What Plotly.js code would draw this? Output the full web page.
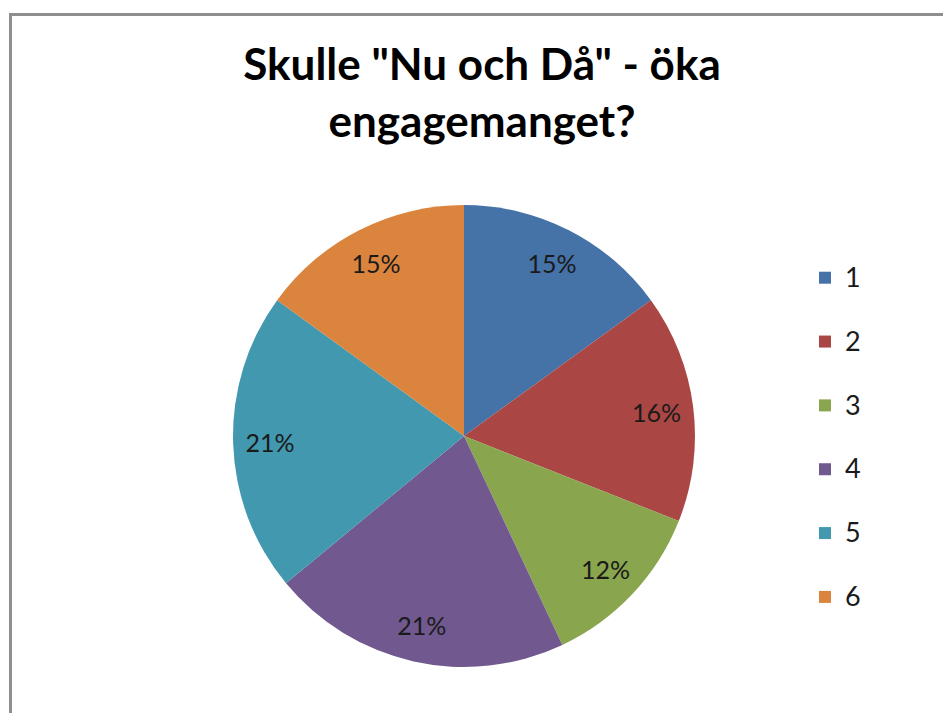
<!DOCTYPE html>
<html>
<head>
<meta charset="utf-8">
<script src="https://cdn.plot.ly/plotly-3.0.1.min.js"></script>
<style>
  body { margin: 0; background: #fff; }
  #plot { width: 943px; height: 713px; }
</style>
</head>
<body>
<div id="plot"></div>
<script>
// chart data
var labels = ['1', '2', '3', '4', '5', '6']
var values = [15, 16, 12, 21, 21, 15]
var colors = ['#4572A7', '#AA4643', '#89A54E', '#71588F', '#4198AF', '#DB843D']

var font = 'Lato, Carlito, Calibri, sans-serif'

// legend text gets an extra blank line so the entries are spaced like the original
var legendLabels = labels.map(function (l) {
  return '<span style="font-size:27px">' + l + '</span><br>\u00a0'
})

var dom = {x: [0.2471, 0.7370], y: [0.0645, 0.7125]}

// the coloured pie with the legend
var pie = {
  type: 'pie',
  labels: legendLabels,
  values: values,
  sort: false,
  direction: 'clockwise',
  rotation: 0,
  marker: {colors: colors, line: {width: 0}},
  textinfo: 'none',
  hoverinfo: 'label+percent',
  domain: dom
}

// transparent ring on top, only to place the percent labels near the rim
var ring = {
  type: 'pie',
  labels: labels,
  values: values,
  sort: false,
  direction: 'clockwise',
  rotation: 0,
  hole: 0.68,
  marker: {colors: labels.map(function () { return 'rgba(0,0,0,0)' }), line: {width: 0}},
  textinfo: 'percent',
  textposition: 'inside',
  insidetextorientation: 'horizontal',
  insidetextfont: {family: font, size: 25, color: '#1a1a1a'},
  showlegend: false,
  hoverinfo: 'skip',
  domain: dom
}

var layout = {
  width: 943,
  height: 713,
  margin: {l: 0, r: 0, t: 0, b: 0},
  paper_bgcolor: '#ffffff',
  font: {family: font},
  title: {
    text: 'Skulle "Nu och Då" - öka<br>engagemanget?',
    font: {family: font, size: 44, color: '#000000', weight: 'bold'},
    x: 482 / 943,
    xanchor: 'center',
    xref: 'container',
    yref: 'container',
    y: 1 - 80 / 713,
    yanchor: 'top'
  },
  showlegend: true,
  legend: {
    x: 805 / 943,
    xanchor: 'left',
    y: 1 - 256 / 713,
    yanchor: 'top',
    valign: 'top',
    font: {family: font, size: 23.4, color: '#1a1a1a'},
    bgcolor: 'rgba(0,0,0,0)'
  },
  shapes: [
    {type: 'line', xref: 'paper', yref: 'paper', x0: 10.5 / 943, x1: 10.5 / 943, y0: 0, y1: 1 - 14 / 713,
     line: {color: '#8f8f8f', width: 3}},
    {type: 'line', xref: 'paper', yref: 'paper', x0: 9 / 943, x1: 1, y0: 1 - 14.5 / 713, y1: 1 - 14.5 / 713,
     line: {color: '#8f8f8f', width: 3}}
  ]
}

Plotly.newPlot('plot', [pie, ring], layout, {displayModeBar: false})
</script>
</body>
</html>
